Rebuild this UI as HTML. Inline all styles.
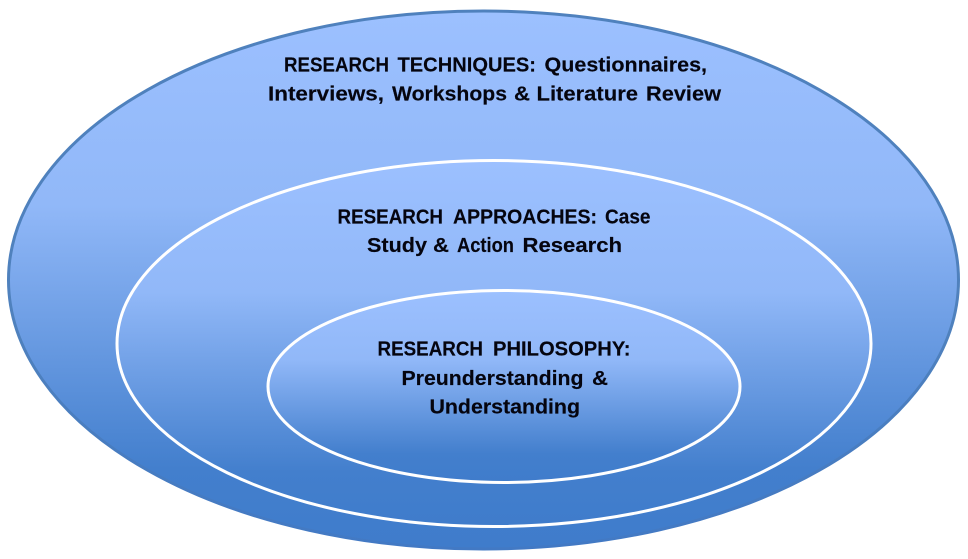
<!DOCTYPE html>
<html>
<head>
<meta charset="utf-8">
<style>
html,body{margin:0;padding:0;background:#fff;width:968px;height:559px;overflow:hidden}
svg{display:block}
text{font-family:"Liberation Sans",sans-serif;font-weight:bold;font-size:20px;fill:#05050f;stroke:#05050f;stroke-width:.15px}
</style>
</head>
<body>
<svg width="968" height="559" viewBox="0 0 968 559" xmlns="http://www.w3.org/2000/svg">
<defs>
<linearGradient id="g" x1="0" y1="0" x2="0" y2="1">
<stop offset="0" stop-color="#9cc0ff"/>
<stop offset="0.36" stop-color="#91b8f8"/>
<stop offset="0.85" stop-color="#437fcd"/>
<stop offset="1" stop-color="#3f7ccb"/>
</linearGradient>
<linearGradient id="s" x1="0" y1="0" x2="0" y2="1">
<stop offset="0" stop-color="#4f81bd"/>
<stop offset="0.6" stop-color="#4f81bd"/>
<stop offset="1" stop-color="#4279c4"/>
</linearGradient>
</defs>
<ellipse cx="483.500" cy="280" rx="475" ry="269" fill="url(#g)" stroke="url(#s)" stroke-width="3"/>
<ellipse cx="494" cy="343.500" rx="377" ry="183" fill="url(#g)" stroke="#fff" stroke-width="3"/>
<ellipse cx="504" cy="386.500" rx="236" ry="96" fill="url(#g)" stroke="#fff" stroke-width="3"/>
<text x="284" y="71.500" textLength="105" lengthAdjust="spacingAndGlyphs">RESEARCH</text>
<text x="397.500" y="71.500" textLength="138.500" lengthAdjust="spacingAndGlyphs">TECHNIQUES:</text>
<text x="544.500" y="71.500" textLength="162.500" lengthAdjust="spacingAndGlyphs">Questionnaires,</text>
<text x="268" y="100.500" textLength="116" lengthAdjust="spacingAndGlyphs">Interviews,</text>
<text x="392" y="100.500" textLength="115" lengthAdjust="spacingAndGlyphs">Workshops</text>
<text x="514" y="100.500" textLength="16" lengthAdjust="spacingAndGlyphs">&amp;</text>
<text x="536.500" y="100.500" textLength="101.500" lengthAdjust="spacingAndGlyphs">Literature</text>
<text x="646" y="100.500" textLength="75" lengthAdjust="spacingAndGlyphs">Review</text>
<text x="337.500" y="223.500" textLength="105.500" lengthAdjust="spacingAndGlyphs">RESEARCH</text>
<text x="453" y="223.500" textLength="144" lengthAdjust="spacingAndGlyphs">APPROACHES:</text>
<text x="605" y="223.500" textLength="45.500" lengthAdjust="spacingAndGlyphs">Case</text>
<text x="367" y="252" textLength="60" lengthAdjust="spacingAndGlyphs">Study</text>
<text x="433" y="252" textLength="16" lengthAdjust="spacingAndGlyphs">&amp;</text>
<text x="457" y="252" textLength="57" lengthAdjust="spacingAndGlyphs">Action</text>
<text x="522.500" y="252" textLength="99.500" lengthAdjust="spacingAndGlyphs">Research</text>
<text x="377.500" y="355.500" textLength="105.500" lengthAdjust="spacingAndGlyphs">RESEARCH</text>
<text x="493" y="355.500" textLength="137.500" lengthAdjust="spacingAndGlyphs">PHILOSOPHY:</text>
<text x="401.500" y="385" textLength="182" lengthAdjust="spacingAndGlyphs">Preunderstanding</text>
<text x="592" y="385" textLength="16" lengthAdjust="spacingAndGlyphs">&amp;</text>
<text x="429.500" y="413.500" textLength="150.500" lengthAdjust="spacingAndGlyphs">Understanding</text>
</svg>
</body>
</html>
